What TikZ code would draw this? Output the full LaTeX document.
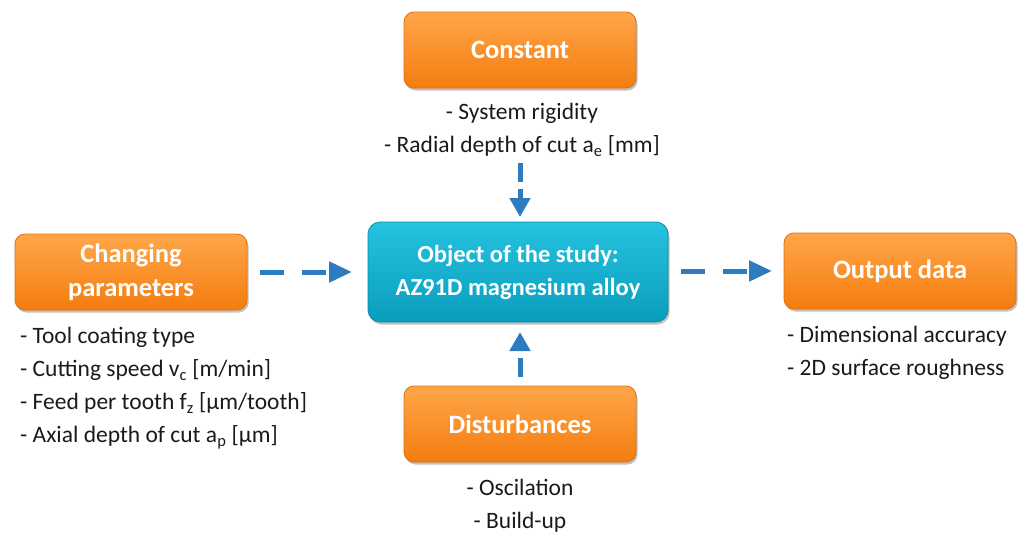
\documentclass[tikz,border=0pt]{standalone}
\usepackage{fontspec}
\setmainfont{Carlito}
\usetikzlibrary{arrows.meta,shadows}
\definecolor{orTop}{HTML}{FFA64A}
\definecolor{orBot}{HTML}{F47D0E}
\definecolor{orEdge}{HTML}{E07010}
\definecolor{cyTop}{HTML}{26C2E0}
\definecolor{cyBot}{HTML}{0A9DBD}
\definecolor{cyEdge}{HTML}{0A8FAA}
\definecolor{arr}{HTML}{2E7CC0}
\definecolor{txt}{HTML}{1A1A1A}
\tikzset{
  obox/.style={rounded corners=10pt, top color=orTop, bottom color=orBot, draw=orEdge, line width=0.8pt,
    minimum width=232pt, minimum height=76pt, text=white, align=center,
    font=\fontsize{26.5}{34}\selectfont\bfseries, inner sep=0pt,
    drop shadow={shadow xshift=1.5pt, shadow yshift=-2.5pt, opacity=0.35, fill=black!70}},
  cbox/.style={rounded corners=12pt, top color=cyTop, bottom color=cyBot, draw=cyEdge, line width=0.8pt,
    minimum width=300pt, minimum height=100pt, text=white, align=center,
    font=\fontsize{24.5}{33}\selectfont\bfseries, inner sep=0pt,
    drop shadow={shadow xshift=1.5pt, shadow yshift=-2.5pt, opacity=0.35, fill=black!70}},
  lbl/.style={text=txt, font=\fontsize{23.5}{33.3}\selectfont, inner sep=0pt},
  harr/.style={draw=arr, line width=5pt, dash pattern=on 24pt off 18pt,
    -{Triangle[length=23pt,width=20pt]}},
  varr/.style={draw=arr, line width=5pt, dash pattern=on 19pt off 7pt,
    -{Triangle[length=19pt,width=20pt]}}
}
\begin{document}
\begin{tikzpicture}[x=1pt,y=-1pt]
\useasboundingbox (0,0) rectangle (1030,538);
\node[obox] (const) at (520,50) {Constant};
\node[obox] (chg) at (131,272) {Changing\\parameters};
\node[cbox] (obj) at (518,272) {Object of the study:\\AZ91D magnesium alloy};
\node[obox] (out) at (900,271) {Output data};
\node[obox] (dist) at (520,424) {Disturbances};

\node[lbl, align=center] (constl) at (522,130) {- System rigidity\\- Radial depth of cut a\textsubscript{e} [mm]};
\node[lbl, align=left, anchor=west] (chgl) at (20,388) {- Tool coating type\\- Cutting speed v\textsubscript{c} [m/min]\\- Feed per tooth f\textsubscript{z} [µm/tooth]\\- Axial depth of cut a\textsubscript{p} [µm]};
\node[lbl, align=left, anchor=west] (outl) at (787,353) {- Dimensional accuracy\\- 2D surface roughness};
\node[lbl, align=center] (distl) at (520,506) {- Oscilation\\- Build-up};

\coordinate (c1) at (520,163);
\coordinate (t1) at (520,217);
\coordinate (c2) at (520,377);
\coordinate (t2) at (520,332);
\coordinate (l1) at (260,272);
\coordinate (l2) at (352,272);
\coordinate (r1) at (681,271);
\coordinate (r2) at (772,271);
\draw[varr] (c1) -- (t1);
\draw[varr, dash pattern=on 19pt off 8pt] (c2) -- (t2);
\draw[harr] (l1) -- (l2);
\draw[harr] (r1) -- (r2);
\end{tikzpicture}
\end{document}
